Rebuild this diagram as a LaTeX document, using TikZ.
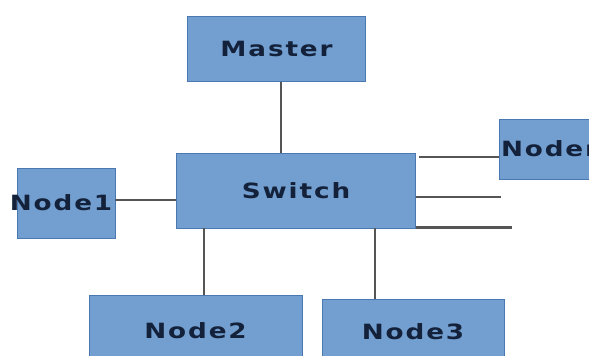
\documentclass[tikz,border=0pt]{standalone}
\usepackage{fontspec}
\newfontfamily\lblfont{DejaVu Sans}[FakeStretch=1.25,LetterSpace=9]
\definecolor{boxfill}{HTML}{729FCF}
\definecolor{boxline}{HTML}{4A78B0}
\definecolor{txt}{HTML}{14213A}
\definecolor{wire}{HTML}{555555}
\begin{document}
\begin{tikzpicture}[x=1pt,y=-1pt,
  box/.style={draw=boxline,line width=0.8pt,fill=boxfill,inner sep=0pt,
    font=\lblfont\bfseries\fontsize{21}{21}\selectfont,text=txt},
  wire/.style={draw=wire,line width=2.2pt}]
\useasboundingbox (0,0) rectangle (589,356);
\clip (0,0) rectangle (589,356);
\node[box,minimum width=178pt,minimum height=65pt] (master) at (276.5,49) {\makebox[0pt]{Master}};
\node[box,minimum width=239pt,minimum height=75pt] (switch) at (296,190.5) {\makebox[0pt]{Switch}};
\node[box,minimum width=98pt,minimum height=70pt] (node1) at (66,203) {\makebox[0pt]{\hspace{-10pt}Node1}};
\node[box,minimum width=213pt,minimum height=80pt] (node2) at (195.5,335) {\makebox[0pt]{\raisebox{8pt}{Node2}}};
\node[box,minimum width=182pt,minimum height=76pt] (node3) at (413,337) {\makebox[0pt]{\raisebox{10pt}{Node3}}};
\node[box,minimum width=122pt,minimum height=60pt] (noden) at (560,149) {\makebox[0pt][l]{\hspace{-59pt}Noden}};
\coordinate (endA) at (501,197);
\coordinate (endB) at (512,227.5);
\draw[wire] (master.south -| 281,0) -- (switch.north -| 281,0);
\draw[wire] (node1.east |- 0,200) -- (switch.west |- 0,200);
\draw[wire] (switch.east |- 0,157) ++(3,0) -- (noden.west |- 0,157);
\draw[wire] (switch.east |- endA) -- (endA);
\draw[wire] (switch.east |- endB) -- (endB);
\draw[wire] (switch.south -| 204,0) -- (node2.north -| 204,0);
\draw[wire] (switch.south -| 375,0) -- (node3.north -| 375,0);
\end{tikzpicture}
\end{document}
